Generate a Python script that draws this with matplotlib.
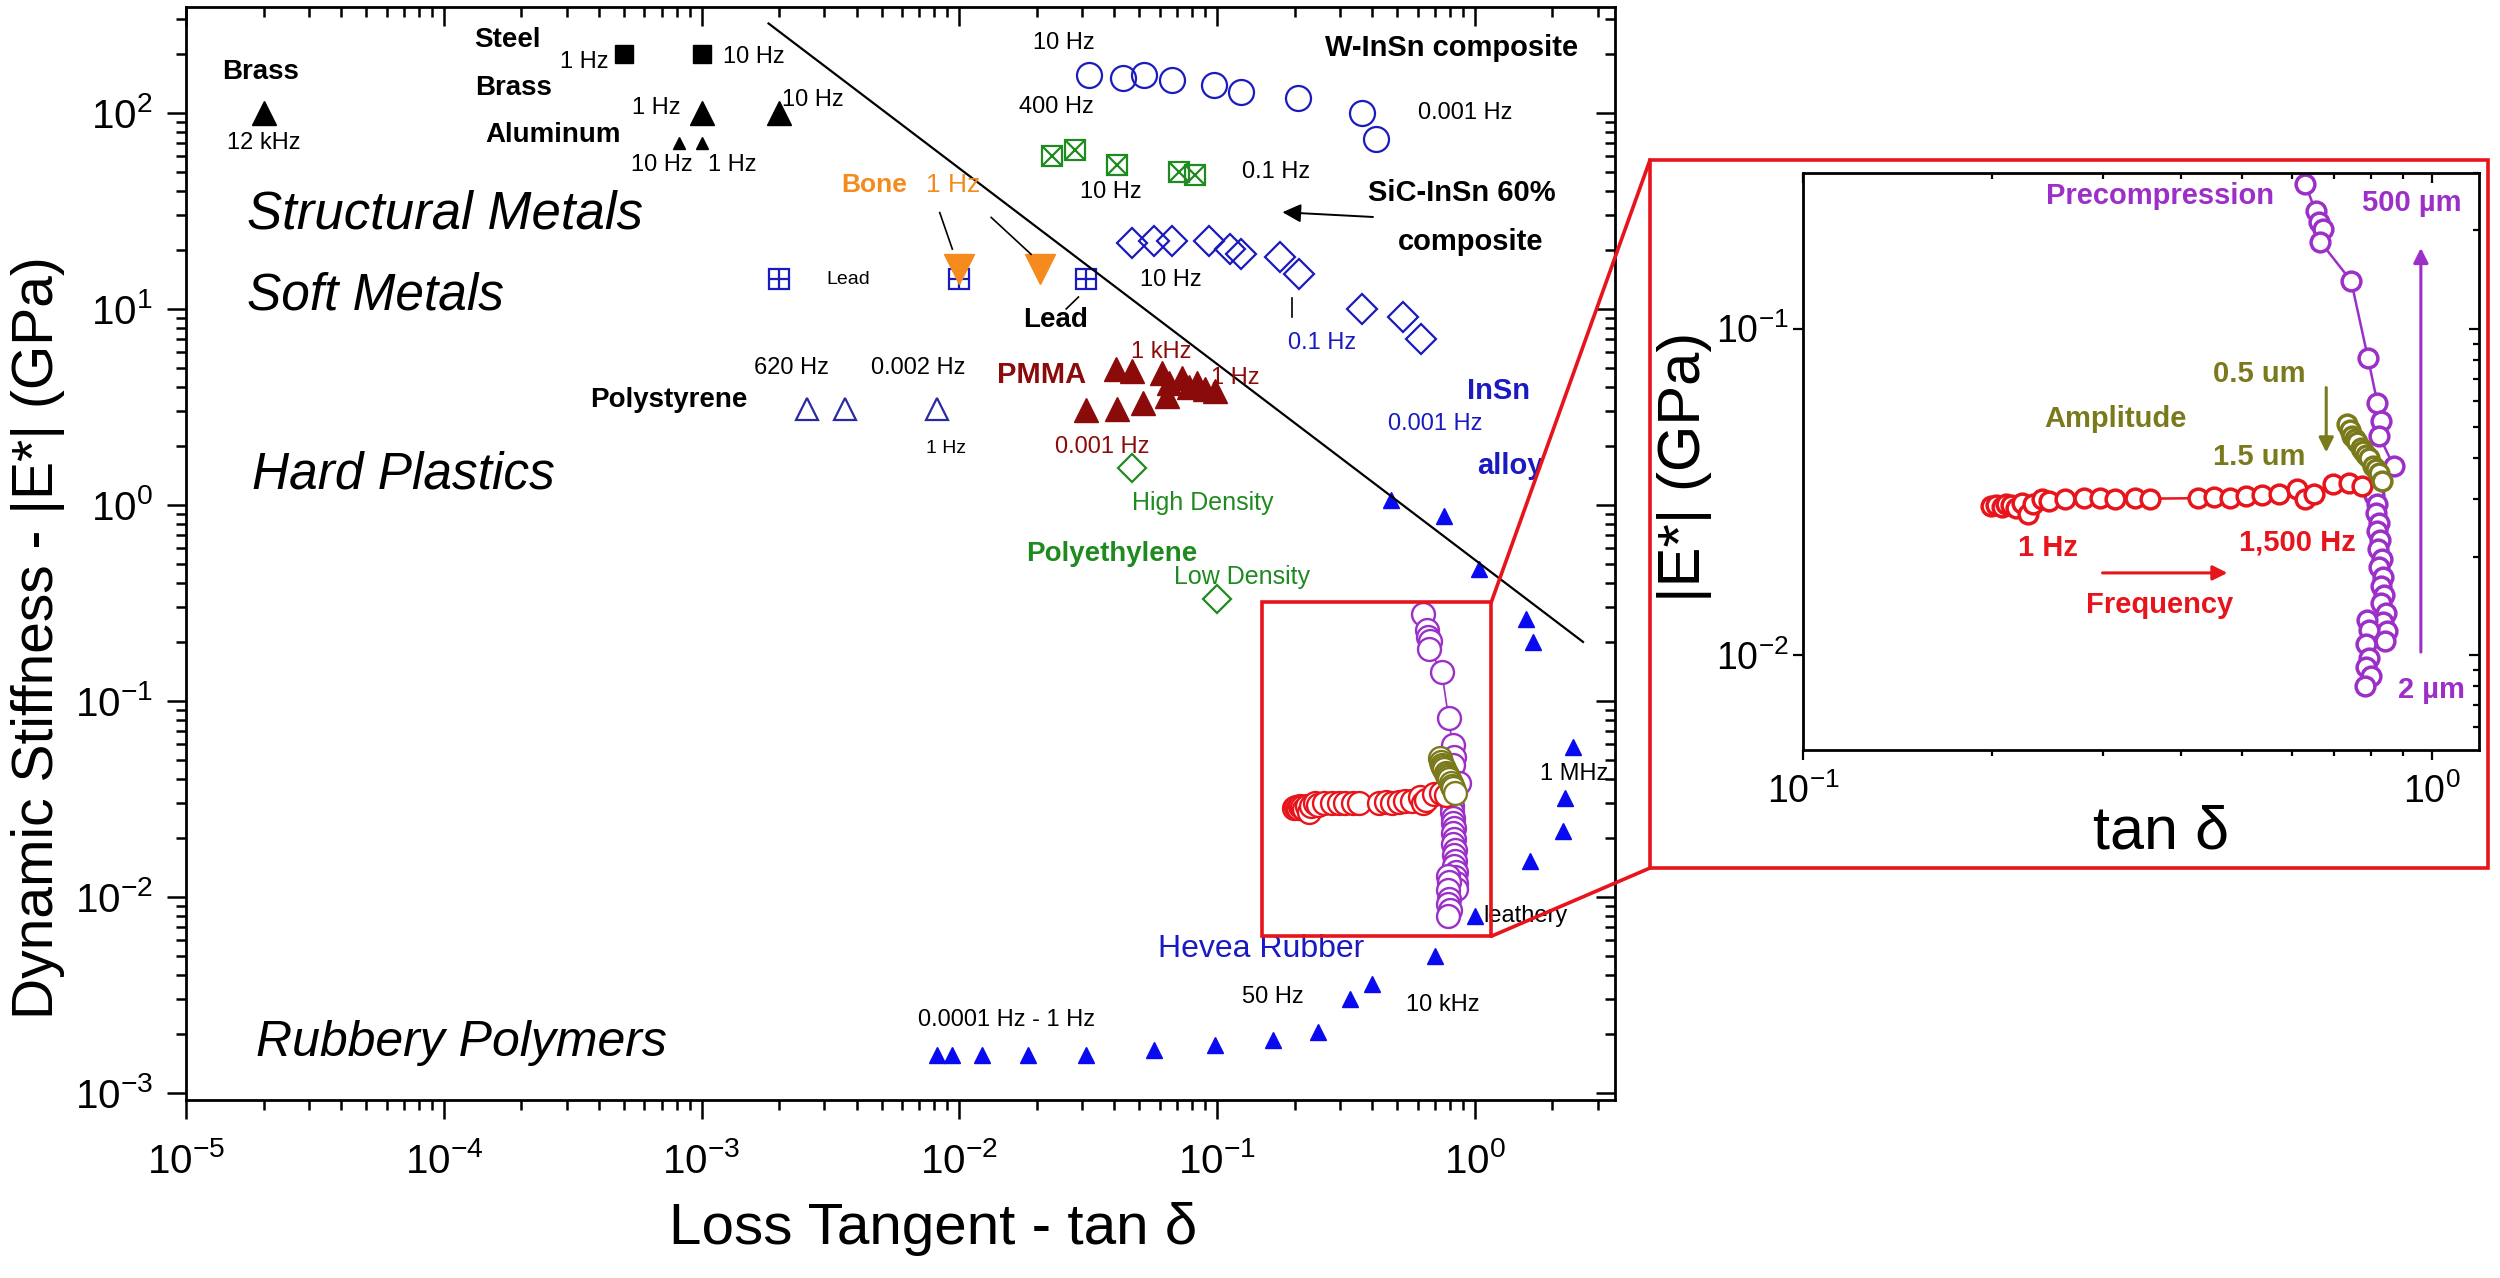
import matplotlib
matplotlib.use('Agg')
from matplotlib import pyplot as plt
from matplotlib import font_manager
from matplotlib.patches import Rectangle, ConnectionPatch
from matplotlib.ticker import LogLocator, NullFormatter

# ---------------- main chart: loss tangent vs dynamic stiffness (GPa) ----------------
brass_hf_x = [2.0e-5]
brass_hf_y = [100]
steel_x = [5.0e-4, 1.0e-3]
steel_y = [200, 200]
brass_x = [1.0e-3, 2.0e-3]
brass_y = [100, 100]
aluminum_x = [8.2e-4, 1.0e-3]
aluminum_y = [70, 70]
lead_x = [2.0e-3, 1.0e-2, 3.1e-2]
lead_y = [14.2, 14.2, 14.2]
bone_x = [1.0e-2, 2.05e-2]
bone_y = [16, 16]
w_insn_x = [0.032, 0.043, 0.052, 0.067, 0.097, 0.124, 0.207, 0.366, 0.415]
w_insn_y = [156, 150, 156, 147, 139, 128, 119, 100, 74]
sic_insn_x = [0.023, 0.028, 0.041, 0.071, 0.082]
sic_insn_y = [60, 65, 54.5, 50, 48]
insn_x = [0.047, 0.057, 0.067, 0.093, 0.112, 0.124, 0.175, 0.208, 0.366, 0.525, 0.62]
insn_y = [21.8, 22.2, 22.2, 22.2, 20.2, 19.0, 18.4, 15.1, 10.0, 9.1, 7.0]
polystyrene_x = [2.56e-3, 3.6e-3, 8.2e-3]
polystyrene_y = [3.1, 3.1, 3.1]
pmma_x = [0.031, 0.041, 0.0515, 0.064, 0.0405, 0.047, 0.061, 0.065, 0.073, 0.078, 0.084, 0.090, 0.098]
pmma_y = [3.05, 3.1, 3.3, 3.6, 4.96, 4.8, 4.7, 4.2, 4.45, 4.0, 4.2, 3.9, 3.8]
hdpe_x = [0.047]
hdpe_y = [1.54]
ldpe_x = [0.1]
ldpe_y = [0.33]
rubber_x = [8.2e-3, 9.4e-3, 0.0123, 0.0185, 0.031, 0.057, 0.098, 0.165, 0.247, 0.328,
            0.40, 0.70, 1.0, 1.64, 2.19, 2.23, 2.40, 1.68, 1.58, 1.04, 0.757, 0.475]
rubber_y = [1.56e-3, 1.56e-3, 1.56e-3, 1.56e-3, 1.56e-3, 1.66e-3, 1.76e-3, 1.87e-3, 2.05e-3, 3.0e-3,
            3.6e-3, 5.0e-3, 8.0e-3, 0.0153, 0.0216, 0.032, 0.058, 0.199, 0.262, 0.47, 0.88, 1.06]
trend_x = [1.82e-3, 2.63]
trend_y = [286, 0.2]

# ---------------- inset: precompression / amplitude / frequency sweeps ----------------
freq_x = [0.199, 0.203, 0.207, 0.210, 0.214, 0.218, 0.223, 0.228, 0.232, 0.240, 0.246, 0.261,
          0.280, 0.297, 0.314, 0.337, 0.357, 0.425, 0.451, 0.478, 0.507, 0.538, 0.571, 0.612,
          0.630, 0.649, 0.696, 0.738, 0.774]
freq_y = [0.0285, 0.0288, 0.0283, 0.0290, 0.0287, 0.0281, 0.0292, 0.0270, 0.0290, 0.0300, 0.0296,
          0.0300, 0.0302, 0.0303, 0.0300, 0.0303, 0.0301, 0.0302, 0.0305, 0.0303, 0.0306, 0.0309,
          0.0310, 0.0322, 0.0300, 0.0312, 0.0333, 0.0337, 0.0330]
amp_x = [0.735, 0.742, 0.748, 0.756, 0.762, 0.771, 0.778, 0.787, 0.795, 0.806, 0.815, 0.826, 0.835]
amp_y = [0.051, 0.049, 0.047, 0.046, 0.045, 0.043, 0.042, 0.041, 0.040, 0.038, 0.037, 0.036, 0.034]
precomp_x = [0.630, 0.654, 0.661, 0.672, 0.665, 0.745, 0.792, 0.820, 0.830, 0.825, 0.870, 0.810,
             0.818, 0.815, 0.824, 0.820, 0.828, 0.822, 0.833, 0.825, 0.836, 0.830, 0.840, 0.832,
             0.845, 0.838, 0.848, 0.842, 0.790, 0.796, 0.788, 0.794, 0.786, 0.800, 0.785]
precomp_y = [0.277, 0.229, 0.212, 0.202, 0.185, 0.140, 0.0815, 0.0593, 0.052, 0.047, 0.038, 0.0309,
             0.0290, 0.0272, 0.0254, 0.0239, 0.0224, 0.0211, 0.0197, 0.0186, 0.0173, 0.0163, 0.0152,
             0.0144, 0.0134, 0.0126, 0.0118, 0.0110, 0.0128, 0.0119, 0.0108, 0.0098, 0.0092, 0.0086,
             0.0080]

# zoom box drawn in the main chart (data coordinates)
box_x = [0.15, 1.16]
box_y = [0.0063, 0.32]

BLUE = '#1a1ac0'
NAVY = '#2a2aa0'
RBLUE = '#0a0af0'
GREEN = '#1f8a1f'
DRED = '#8b0b0b'
ORANGE = '#f58a1f'
RED = '#e8141b'
PURPLE = '#9b2fc8'
OLIVE = '#7a7a1c'


def pick_font(names):
    have = {f.name for f in font_manager.fontManager.ttflist}
    for n in names:
        if n in have:
            return n
    return 'DejaVu Sans'


def style_log_axis(ax, major_len, minor_len, width, labelsize, pad_x, pad_y):
    for axis in (ax.xaxis, ax.yaxis):
        axis.set_major_locator(LogLocator(base=10, numticks=20))
        axis.set_minor_locator(LogLocator(base=10, subs=range(2, 10), numticks=20))
        axis.set_minor_formatter(NullFormatter())
    ax.tick_params(which='both', top=True, right=True, width=width, labelsize=labelsize)
    ax.tick_params(which='major', length=major_len)
    ax.tick_params(which='minor', length=minor_len)
    ax.tick_params(axis='x', which='both', direction='out', pad=pad_x)
    ax.tick_params(axis='y', which='both', direction='out', pad=pad_y)
    # origin-style: mirrored ticks point inward on top and right
    for t in ax.xaxis.get_major_ticks() + ax.xaxis.get_minor_ticks():
        t.tick2line.set_marker(3)
    for t in ax.yaxis.get_major_ticks() + ax.yaxis.get_minor_ticks():
        t.tick2line.set_marker(0)


def txt(ax, x, y, s, size=17, color='black', weight='normal', ha='center', style='normal'):
    ax.text(x, y, s, fontsize=size, color=color, fontweight=weight, ha=ha, va='center',
            fontstyle=style)


def main():
    plt.rcParams['font.family'] = ['Liberation Sans', 'DejaVu Sans']
    plt.rcParams['mathtext.fontset'] = 'custom'
    plt.rcParams['mathtext.rm'] = 'Liberation Sans'
    plt.rcParams['mathtext.it'] = 'Liberation Sans:italic'
    plt.rcParams['mathtext.bf'] = 'Liberation Sans:bold'
    narrow = pick_font(['Liberation Sans Narrow', 'Liberation Sans'])

    fig = plt.figure(figsize=(25, 12.78), dpi=100)
    ax = fig.add_axes([0.0744, 0.1393, 0.5716, 0.8552])
    ax.set_xscale('log')
    ax.set_yscale('log')
    ax.set_xlim(1e-5, 3.5)
    ax.set_ylim(9.2e-4, 347)

    # metals
    ax.plot(brass_hf_x, brass_hf_y, '^', color='black', ms=17)
    ax.plot(steel_x, steel_y, 's', color='black', ms=13)
    ax.plot(brass_x, brass_y, '^', color='black', ms=17)
    ax.plot(aluminum_x, aluminum_y, '^', color='black', ms=9)
    ax.plot(lead_x, lead_y, 's', mfc='none', mec=BLUE, mew=1.6, ms=15)
    ax.plot(lead_x, lead_y, '+', mec=BLUE, mew=1.6, ms=15)
    ax.plot(bone_x, bone_y, 'v', color=ORANGE, ms=22)
    # composites
    ax.plot(w_insn_x, w_insn_y, 'o', mfc='none', mec=BLUE, mew=1.6, ms=18)
    ax.plot(sic_insn_x, sic_insn_y, 's', mfc='none', mec=GREEN, mew=1.6, ms=15)
    ax.plot(sic_insn_x, sic_insn_y, 'x', mec=GREEN, mew=1.6, ms=15)
    ax.plot(insn_x, insn_y, 'D', mfc='none', mec=BLUE, mew=1.6, ms=15)
    # polymers
    ax.plot(polystyrene_x, polystyrene_y, '^', mfc='none', mec=NAVY, mew=1.6, ms=16)
    ax.plot(pmma_x, pmma_y, '^', color=DRED, ms=17)
    ax.plot(hdpe_x + ldpe_x, hdpe_y + ldpe_y, 'D', mfc='none', mec=GREEN, mew=1.6, ms=14)
    ax.plot(rubber_x, rubber_y, '^', color=RBLUE, ms=12)
    ax.plot(trend_x, trend_y, '-', color='black', lw=1.6)

    # inset data repeated in the main chart
    ax.plot(precomp_x, precomp_y, '-o', color=PURPLE, mfc='white', mew=1.7, ms=16.5, lw=1.2)
    ax.plot(freq_x, freq_y, '-o', color=RED, mfc='white', mew=1.7, ms=16.5, lw=1.2)
    ax.plot(amp_x, amp_y, '-o', color=OLIVE, mfc='white', mew=1.7, ms=16.5, lw=1.2)
    ax.add_patch(Rectangle((box_x[0], box_y[0]), box_x[1] - box_x[0], box_y[1] - box_y[0],
                           fill=False, ec=RED, lw=2.6, zorder=5))

    # labels
    txt(ax, 1.94e-5, 161, 'Brass', 20, weight='bold')
    txt(ax, 2.0e-5, 70.5, '12 kHz')
    txt(ax, 1.77e-4, 235, 'Steel', 20, weight='bold')
    txt(ax, 1.87e-4, 134, 'Brass', 20, weight='bold')
    txt(ax, 2.65e-4, 77, 'Aluminum', 20, weight='bold')
    txt(ax, 3.5e-4, 181, '1 Hz')
    txt(ax, 1.59e-3, 192, '10 Hz')
    txt(ax, 6.7e-4, 106, '1 Hz')
    txt(ax, 2.7e-3, 116, '10 Hz')
    txt(ax, 7.0e-4, 54.5, '10 Hz')
    txt(ax, 1.32e-3, 54.5, '1 Hz')
    txt(ax, 1.72e-5, 30.3, 'Structural Metals', 38, ha='left', style='italic')
    txt(ax, 1.72e-5, 11.6, 'Soft Metals', 37, ha='left', style='italic')
    txt(ax, 1.8e-5, 1.42, 'Hard Plastics', 37, ha='left', style='italic')
    txt(ax, 1.87e-5, 1.8e-3, 'Rubbery Polymers', 36, ha='left', style='italic')
    txt(ax, 3.49e-3, 43, 'Bone', 19, color=ORANGE, weight='bold', ha='left')
    txt(ax, 7.45e-3, 43, '1 Hz', 19, color=ORANGE, ha='left')
    ax.plot([8.4e-3, 9.4e-3], [31, 20.2], color='black', lw=1.2)
    ax.plot([0.0133, 0.019], [29.3, 19.0], color='black', lw=1.2)
    txt(ax, 3.7e-3, 14.2, 'Lead', 14)
    txt(ax, 0.0236, 8.8, 'Lead', 20, weight='bold')
    ax.plot([0.029, 0.026], [11.5, 10.0], color='black', lw=1.2)
    txt(ax, 0.0254, 228, '10 Hz')
    txt(ax, 0.0239, 107, '400 Hz')
    txt(ax, 0.815, 215, 'W-InSn composite', 21, weight='bold')
    txt(ax, 0.92, 100, '0.001 Hz')
    txt(ax, 0.0386, 39.5, '10 Hz')
    txt(ax, 0.169, 50, '0.1 Hz')
    ax.annotate('', xy=(0.175, 31.2), xytext=(0.413, 29.4),
                arrowprops=dict(arrowstyle='-|>', color='black', lw=1.4, mutation_scale=28))
    txt(ax, 0.89, 39, 'SiC-InSn 60%', 21, weight='bold')
    txt(ax, 0.966, 22, 'composite', 21, weight='bold')
    txt(ax, 0.066, 14.1, '10 Hz')
    txt(ax, 0.255, 6.7, '0.1 Hz', 17, color=BLUE)
    ax.plot([0.195, 0.195], [11.4, 9.1], color='black', lw=1.2)
    txt(ax, 1.24, 3.8, 'InSn', 21, color=BLUE, weight='bold')
    txt(ax, 1.37, 1.58, 'alloy', 21, color=BLUE, weight='bold')
    txt(ax, 0.70, 2.59, '0.001 Hz', 17, color=BLUE)
    txt(ax, 2.23e-3, 5.0, '620 Hz')
    txt(ax, 6.9e-3, 5.0, '0.002 Hz')
    txt(ax, 7.5e-4, 3.44, 'Polystyrene', 20, weight='bold')
    txt(ax, 8.9e-3, 1.95, '1 Hz', 14)
    txt(ax, 0.0208, 4.6, 'PMMA', 21, color=DRED, weight='bold')
    txt(ax, 0.061, 6.0, '1 kHz', 17, color=DRED)
    txt(ax, 0.118, 4.45, '1 Hz', 17, color=DRED)
    txt(ax, 0.036, 1.98, '0.001 Hz', 17, color=DRED)
    txt(ax, 0.047, 1.02, 'High Density', 18, color=GREEN, ha='left')
    txt(ax, 0.039, 0.56, 'Polyethylene', 20, color=GREEN, weight='bold')
    txt(ax, 0.068, 0.43, 'Low Density', 18, color=GREEN, ha='left')
    txt(ax, 0.059, 5.45e-3, 'Hevea Rubber', 23, color=BLUE, ha='left')
    txt(ax, 6.9e-3, 2.35e-3, '0.0001 Hz - 1 Hz', 17, ha='left')
    txt(ax, 0.165, 3.08e-3, '50 Hz')
    txt(ax, 0.75, 2.8e-3, '10 kHz')
    txt(ax, 1.08, 8.0e-3, 'leathery', 17, ha='left')
    txt(ax, 2.43, 0.0426, '1 MHz')

    style_log_axis(ax, 14, 7, 1.8, 29, 16, 10)
    for s in ax.spines.values():
        s.set_linewidth(2.0)
    ax.set_xlabel('Loss Tangent - tan δ', fontsize=42)
    ax.xaxis.set_label_coords(0.523, -0.093)
    ax.set_ylabel('Dynamic Stiffness - |E*| (GPa)', fontsize=41)
    ax.yaxis.set_label_coords(-0.085, 0.423)

    # ---------------- inset ----------------
    big = Rectangle((0.66, 0.3208), 0.3352, 0.554, transform=fig.transFigure,
                    fill=False, ec=RED, lw=2.6, zorder=3)
    fig.add_artist(big)
    for yb, yf in ((box_y[1], 0.8748), (box_y[0], 0.3208)):
        con = ConnectionPatch(xyA=(box_x[1], yb), coordsA=ax.transData,
                              xyB=(0.66, yf), coordsB=fig.transFigure,
                              color=RED, lw=2.6, zorder=6)
        fig.add_artist(con)

    ins = fig.add_axes([0.7212, 0.4131, 0.2704, 0.4515])
    ins.set_xscale('log')
    ins.set_yscale('log')
    ins.set_xlim(0.1, 1.19)
    ins.set_ylim(0.0051, 0.30)
    ins.plot(precomp_x, precomp_y, '-o', color=PURPLE, mfc='white', mew=2.5, ms=13.5, lw=1.8)
    ins.plot(freq_x, freq_y, '-o', color=RED, mfc='white', mew=2.5, ms=13.5, lw=1.8)
    ins.plot(amp_x, amp_y, '-o', color=OLIVE, mfc='white', mew=2.5, ms=13.5, lw=1.8)
    style_log_axis(ins, 7, 4, 1.6, 27, 10, 3)
    for t in ins.yaxis.get_minor_ticks():
        t.tick1line.set_visible(False)
    for s in ins.spines.values():
        s.set_linewidth(2.0)
    ins.set_xlabel('tan δ', fontsize=44)
    ins.xaxis.set_label_coords(0.53, -0.095)
    ins.set_ylabel('|E*| (GPa)', fontsize=43)
    ins.yaxis.set_label_coords(-0.135, 0.49)

    def itxt(x, y, s, color):
        ins.text(x, y, s, transform=ins.transAxes, fontsize=21, color=color, fontweight='bold',
                 ha='center', va='center', family=[narrow, 'DejaVu Sans'])

    itxt(0.528, 0.960, 'Precompression', PURPLE)
    itxt(0.901, 0.948, '500 µm', PURPLE)
    itxt(0.929, 0.104, '2 µm', PURPLE)
    itxt(0.675, 0.652, '0.5 um', OLIVE)
    itxt(0.462, 0.574, 'Amplitude', OLIVE)
    itxt(0.675, 0.508, '1.5 um', OLIVE)
    itxt(0.362, 0.350, '1 Hz', RED)
    itxt(0.731, 0.359, '1,500 Hz', RED)
    itxt(0.528, 0.251, 'Frequency', RED)
    ins.annotate('', xy=(0.914, 0.875), xytext=(0.914, 0.165), xycoords='axes fraction',
                 arrowprops=dict(arrowstyle='-|>', color=PURPLE, lw=2.2, mutation_scale=22))
    ins.annotate('', xy=(0.774, 0.511), xytext=(0.774, 0.633), xycoords='axes fraction',
                 arrowprops=dict(arrowstyle='-|>', color=OLIVE, lw=2.2, mutation_scale=22))
    ins.annotate('', xy=(0.632, 0.307), xytext=(0.439, 0.307), xycoords='axes fraction',
                 arrowprops=dict(arrowstyle='-|>', color=RED, lw=2.2, mutation_scale=22))

    fig.savefig('out.png', dpi=100, facecolor='white')


if __name__ == '__main__':
    main()
